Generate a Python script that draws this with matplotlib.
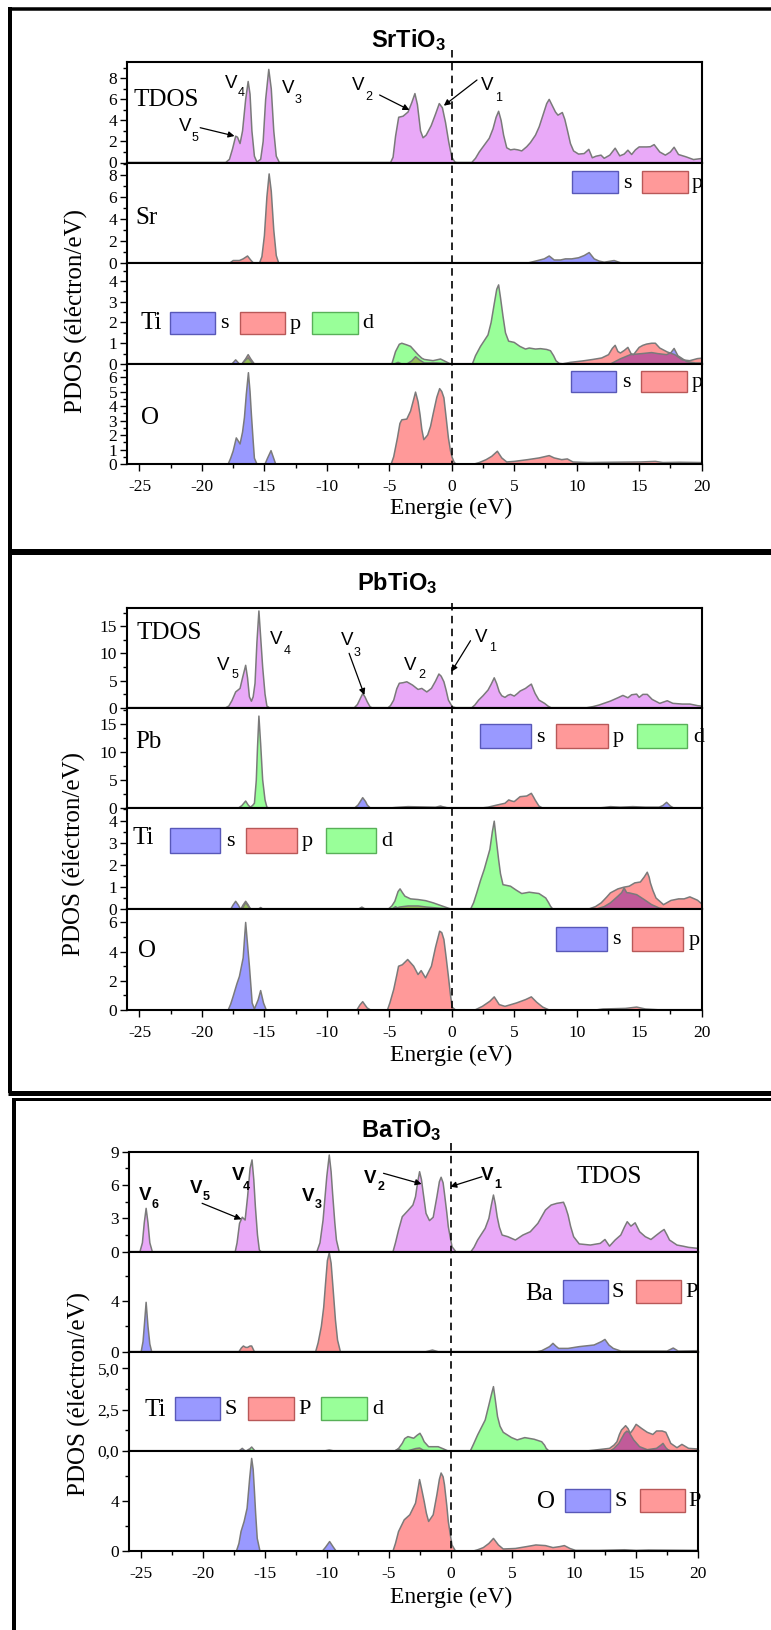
import matplotlib
matplotlib.use('Agg')
import matplotlib.pyplot as plt
from matplotlib.patches import Rectangle, FancyArrowPatch
from matplotlib.lines import Line2D
from matplotlib.ticker import MultipleLocator, FixedLocator, FixedFormatter
import matplotlib.transforms as mtransforms

# ---------------- data (energy eV, DOS) ----------------
sto_tdos = [(-26,0),(-18.1,0),(-17.8,0.3),(-17.55,1.3),(-17.3,2.5),(-17.15,2.4),(-16.95,1.8),(-16.75,3.0),(-16.5,6.0),(-16.3,7.7),(-16.15,6.5),(-16.0,3.0),(-15.8,0.6),(-15.6,0.05),(-15.3,0.3),(-15.1,2.0),(-14.9,6.0),(-14.65,8.85),(-14.45,7.0),(-14.25,3.0),(-14.05,0.6),(-13.8,0),
            (-4.9,0),(-4.7,0.5),(-4.5,2.5),(-4.25,4.3),(-3.9,4.4),(-3.5,4.8),(-3.2,5.7),(-2.95,6.55),(-2.75,5.5),(-2.5,3.0),(-2.3,2.35),(-2.05,2.6),(-1.65,3.5),(-1.3,4.6),(-1.0,5.6),(-0.75,5.2),(-0.5,3.8),(-0.25,2.0),(0.0,0.5),(0.25,0.05),(0.4,0),
            (1.6,0),(1.9,0.4),(2.2,1.0),(2.6,1.65),(3.0,2.3),(3.3,3.2),(3.55,4.3),(3.75,4.87),(3.95,4.0),(4.15,2.6),(4.4,1.4),(4.7,1.2),(5.0,1.26),(5.3,1.2),(5.6,1.1),(6.0,1.5),(6.3,1.9),(6.7,2.6),(7.0,3.4),(7.3,4.5),(7.6,5.6),(7.8,6.0),(8.05,5.4),(8.3,4.8),(8.5,4.5),(8.85,4.75),(9.05,4.1),(9.25,3.1),(9.5,1.8),(9.75,1.1),(10.15,0.8),(10.6,0.85),(10.97,1.25),(11.25,0.45),(11.55,0.6),(11.95,0.7),(12.2,0.4),(12.65,0.7),(13.08,1.36),(13.45,0.63),(13.8,0.8),(14.1,1.17),(14.4,0.76),(14.7,1.2),(15.0,1.48),(15.6,1.48),(15.9,1.5),(16.2,1.7),(16.65,1.0),(17.1,0.7),(17.5,1.0),(17.8,1.45),(18.15,0.76),(18.75,0.54),(19.35,0.28),(20.0,0.38)]
sto_sr_s = [(-26,0),(-3,0),(-2.5,0.05),(-0.5,0.05),(0,0),(6.0,0),(6.7,0.2),(7.4,0.4),(7.8,0.66),(8.2,0.3),(8.7,0.3),(9.1,0.4),(9.6,0.4),(10.15,0.5),(10.6,0.7),(11.0,0.97),(11.4,0.4),(11.8,0.2),(12.2,0.1),(13.0,0.25),(13.5,0.05),(14,0),(20,0)]
sto_sr_p = [(-26,0),(-17.8,0),(-17.5,0.25),(-17.0,0.25),(-16.7,0.4),(-16.35,0.66),(-16.1,0.3),(-15.9,0.05),(-15.4,0),(-15.2,0.6),(-15.0,2.5),(-14.8,6.0),(-14.62,8.07),(-14.45,6.5),(-14.25,3.0),(-14.05,0.7),(-13.85,0),(-3.5,0),(-3,0.05),(-1,0.05),(0,0),(20,0)]
sto_ti_s = [(-26,0),(-17.6,0),(-17.3,0.2),(-17.0,0),(-4.6,0),(-4.3,0.08),(-4.0,0),(12.7,0),(13.5,0.25),(14.3,0.45),(15.2,0.5),(16.0,0.55),(16.5,0.5),(17.2,0.45),(17.55,0.55),(17.8,0.75),(18.1,0.4),(18.8,0.12),(19.5,0.05),(20,0.05)]
sto_ti_p = [(-26,0),(-16.8,0),(-16.5,0.25),(-16.3,0.45),(-16.1,0.25),(-15.8,0),(-3.6,0),(-3.2,0.15),(-2.9,0.35),(-2.6,0.2),(-2.2,0.05),(-1.2,0.05),(0,0),(8.8,0),(9.5,0.08),(10.5,0.15),(11.3,0.22),(12.0,0.29),(12.55,0.45),(12.85,0.75),(13.08,0.9),(13.3,0.6),(13.5,0.53),(13.8,0.65),(14.1,0.8),(14.35,0.5),(14.55,0.45),(15.0,0.8),(15.3,0.9),(15.6,0.96),(16.0,1.0),(16.3,1.0),(16.65,0.77),(17.25,0.58),(17.85,0.45),(18.45,0.2),(19.05,0.16),(19.67,0.26),(20,0.28)]
sto_ti_d = [(-26,0),(-16.8,0),(-16.5,0.2),(-16.3,0.3),(-16.1,0.15),(-15.9,0),(-4.8,0),(-4.5,0.6),(-4.2,0.95),(-4.0,1.0),(-3.6,0.92),(-3.3,0.85),(-3.0,0.65),(-2.7,0.45),(-2.4,0.28),(-2.2,0.22),(-1.5,0.16),(-0.9,0.24),(-0.5,0.12),(-0.2,0.03),(0,0),(1.65,0),(1.9,0.4),(2.3,0.85),(2.9,1.4),(3.15,2.0),(3.4,2.9),(3.6,3.6),(3.75,3.81),(3.9,3.2),(4.1,2.3),(4.3,1.5),(4.55,1.1),(5.0,1.04),(5.45,0.85),(5.9,0.72),(6.2,0.77),(6.7,0.72),(7.1,0.74),(7.6,0.7),(7.9,0.64),(8.15,0.4),(8.35,0.15),(8.6,0.03),(9.0,0),(20,0)]
sto_o_s = [(-26,0),(-17.9,0),(-17.7,0.4),(-17.5,0.9),(-17.25,1.8),(-17.1,1.6),(-16.95,1.38),(-16.75,2.2),(-16.6,3.2),(-16.45,4.8),(-16.28,6.3),(-16.15,5.0),(-16.04,3.4),(-15.9,1.6),(-15.8,0.4),(-15.6,0),(-14.95,0),(-14.75,0.4),(-14.47,0.92),(-14.3,0.5),(-14.1,0),(20,0)]
sto_o_p = [(-26,0),(-4.85,0),(-4.65,0.5),(-4.35,1.8),(-4.15,2.8),(-4.0,3.05),(-3.6,3.1),(-3.3,3.65),(-3.1,4.3),(-2.9,4.96),(-2.7,4.3),(-2.54,3.4),(-2.4,2.4),(-2.24,1.68),(-1.93,2.0),(-1.7,2.6),(-1.48,3.5),(-1.2,4.6),(-0.97,5.2),(-0.8,5.0),(-0.63,4.57),(-0.45,3.2),(-0.27,1.8),(-0.1,0.9),(0.03,0.46),(0.2,0.1),(0.35,0),(1.8,0),(2.2,0.1),(2.75,0.3),(3.2,0.53),(3.65,0.88),(4.0,0.42),(4.4,0.14),(5.0,0.18),(6.07,0.3),(7.0,0.42),(7.8,0.58),(8.2,0.42),(8.8,0.3),(9.25,0.35),(9.7,0.14),(10.9,0.1),(12.7,0.12),(15.1,0.14),(16.3,0.18),(16.9,0.1),(18.2,0.12),(20,0.1)]

pto_tdos = [(-26,0),(-18.1,0),(-17.85,0.3),(-17.6,1.3),(-17.3,2.9),(-16.95,3.55),(-16.75,5.5),(-16.5,7.8),(-16.35,5.5),(-16.2,2.0),(-16.04,1.2),(-15.9,2.0),(-15.75,4.5),(-15.6,12.0),(-15.44,17.8),(-15.3,13.0),(-15.14,7.5),(-14.95,2.5),(-14.8,0.3),(-14.6,0),
            (-7.8,0),(-7.55,0.6),(-7.3,1.8),(-7.13,2.6),(-6.95,2.0),(-6.77,1.1),(-6.55,0.2),(-6.4,0),
            (-5.1,0),(-4.9,0.4),(-4.65,1.4),(-4.4,3.5),(-4.2,4.5),(-3.9,4.6),(-3.6,4.77),(-3.14,4.16),(-2.7,3.36),(-2.4,3.55),(-2.0,2.9),(-1.63,3.55),(-1.3,4.9),(-1.03,6.2),(-0.85,5.8),(-0.63,4.77),(-0.45,3.2),(-0.27,1.4),(0.03,0.2),(0.3,0),
            (1.6,0),(1.85,0.5),(2.15,1.4),(2.5,2.2),(2.9,3.24),(3.15,4.3),(3.4,5.5),(3.6,4.4),(3.8,2.94),(4.0,2.2),(4.26,1.9),(4.5,2.3),(4.7,2.45),(5.0,2.14),(5.25,2.6),(5.47,3.06),(5.9,3.55),(6.1,3.9),(6.37,4.34),(6.55,3.3),(6.67,2.63),(6.98,1.4),(7.43,0.8),(7.7,0.3),(7.95,0),
            (10.8,0),(11.3,0.2),(11.8,0.5),(12.3,0.9),(12.7,1.22),(13.3,1.83),(13.7,2.26),(14.1,1.83),(14.4,2.38),(14.8,2.5),(15.0,1.9),(15.3,2.45),(15.65,2.45),(16.04,1.53),(16.65,0.8),(17.25,1.28),(17.7,0.8),(18.46,0.67),(19.06,0.67),(19.7,0.37),(20,0.3)]
pto_pb_s = [(-26,0),(-7.8,0),(-7.5,0.6),(-7.13,1.9),(-6.9,1.2),(-6.77,0.6),(-6.5,0),(-1.4,0),(-1.1,0.3),(-0.9,0.4),(-0.6,0.2),(-0.3,0),(11.5,0),(12.2,0.15),(12.7,0.3),(13.5,0.2),(14.5,0.3),(15.5,0.2),(16.6,0.2),(16.9,0.5),(17.2,1.07),(17.5,0.4),(17.8,0),(20,0)]
pto_pb_p = [(-26,0),(-5.2,0),(-4.5,0.15),(-3.5,0.3),(-2.5,0.25),(-1.5,0.2),(-0.5,0.15),(0,0),(2.2,0),(2.9,0.2),(3.65,0.6),(4.26,0.9),(4.56,1.5),(4.8,1.3),(5.0,1.2),(5.47,2.08),(6.0,2.2),(6.37,2.68),(6.55,2.0),(6.67,1.5),(6.98,0.4),(7.3,0),(20,0)]
pto_pb_d = [(-26,0),(-17.1,0),(-16.8,0.5),(-16.5,1.3),(-16.3,0.6),(-16.13,0.2),(-15.95,0.5),(-15.8,0.9),(-15.65,5.0),(-15.55,11.0),(-15.44,16.5),(-15.3,11.5),(-15.14,5.1),(-14.95,1.5),(-14.8,0.2),(-14.6,0),(20,0)]
pto_ti_s = [(-26,0),(-17.7,0),(-17.5,0.2),(-17.3,0.36),(-17.1,0.2),(-16.9,0),(-4.8,0),(-4.5,0.12),(-4.2,0),(11.5,0),(12.2,0.12),(12.7,0.29),(13.3,0.59),(13.6,0.75),(13.8,0.96),(14.0,0.75),(14.2,0.74),(14.8,0.66),(15.4,0.44),(16.0,0.21),(16.6,0.06),(17.2,0),(20,0)]
pto_ti_p = [(-26,0),(-16.9,0),(-16.7,0.2),(-16.5,0.36),(-16.3,0.2),(-16.1,0),(-15.5,0),(-15.3,0.08),(-15.1,0),(-4.6,0),(-4.2,0.1),(-3.5,0.15),(-2.7,0.15),(-2.0,0.1),(-1.0,0.05),(0,0),(10.9,0),(11.5,0.12),(11.96,0.29),(12.4,0.55),(12.7,0.74),(13.3,0.92),(13.8,1.0),(14.2,1.04),(14.65,1.19),(15.1,1.23),(15.4,1.45),(15.65,1.67),(15.8,1.45),(15.9,1.19),(16.1,0.85),(16.35,0.51),(16.95,0.21),(17.55,0.4),(18.16,0.47),(18.6,0.47),(19.06,0.56),(19.67,0.41),(20,0.25)]
pto_ti_d = [(-26,0),(-16.8,0),(-16.5,0.3),(-16.3,0.15),(-16.1,0),(-7.5,0),(-7.2,0.1),(-6.9,0),(-5.1,0),(-4.8,0.15),(-4.56,0.36),(-4.3,0.8),(-4.14,0.92),(-3.95,0.75),(-3.75,0.59),(-3.3,0.47),(-2.7,0.44),(-2.1,0.39),(-1.48,0.29),(-0.88,0.17),(-0.27,0.05),(0,0),(1.5,0),(1.75,0.3),(2.0,0.74),(2.3,1.3),(2.6,1.8),(3.05,2.7),(3.25,3.5),(3.4,3.97),(3.55,3.2),(3.75,2.24),(3.9,1.6),(4.1,1.11),(4.7,1.04),(5.17,0.86),(5.6,0.71),(6.2,0.77),(6.98,0.71),(7.52,0.51),(7.75,0.3),(7.9,0.14),(8.1,0),(20,0)]
pto_o_s = [(-26,0),(-17.9,0),(-17.7,0.4),(-17.5,0.94),(-17.2,1.8),(-17.0,2.3),(-16.7,3.57),(-16.6,4.8),(-16.5,6.0),(-16.35,4.5),(-16.2,3.0),(-16.05,1.3),(-15.98,0.48),(-15.8,0.07),(-15.5,0.7),(-15.3,1.33),(-15.07,0.48),(-14.85,0),(20,0)]
pto_o_p = [(-26,0),(-7.6,0),(-7.35,0.35),(-7.13,0.57),(-6.95,0.35),(-6.77,0.14),(-6.5,0),(-5.15,0),(-4.95,0.5),(-4.65,1.4),(-4.4,2.4),(-4.26,3.0),(-3.96,3.1),(-3.53,3.46),(-3.05,3.0),(-2.7,2.43),(-2.45,2.7),(-2.1,2.2),(-1.63,3.0),(-1.3,4.3),(-0.97,5.4),(-0.8,5.3),(-0.63,4.83),(-0.45,3.6),(-0.27,2.3),(-0.1,1.0),(0.03,0.2),(0.3,0),(1.85,0),(2.45,0.25),(3.05,0.6),(3.4,0.9),(3.8,0.37),(4.26,0.25),(5.17,0.48),(5.9,0.71),(6.37,0.9),(6.8,0.53),(7.28,0.2),(7.8,0),(11.5,0),(12.1,0.07),(13.9,0.11),(14.8,0.2),(15.5,0.07),(16.5,0.02),(20,0.02)]

bto_tdos = [(-26,0),(-25.1,0),(-24.9,0.8),(-24.75,2.6),(-24.6,3.9),(-24.45,2.6),(-24.3,0.8),(-24.1,0),
            (-17.4,0),(-17.25,0.8),(-17.05,2.55),(-16.83,3.1),(-16.6,2.85),(-16.4,4.95),(-16.2,7.5),(-16.04,8.26),(-15.9,6.5),(-15.77,4.05),(-15.6,1.5),(-15.45,0.15),(-15.3,0),
            (-10.8,0),(-10.55,0.8),(-10.3,2.85),(-10.0,6.76),(-9.8,8.7),(-9.65,7.2),(-9.53,5.25),(-9.35,2.6),(-9.22,1.05),(-9.0,0),
            (-4.65,0),(-4.45,0.8),(-4.2,1.95),(-3.9,3.15),(-3.44,3.7),(-3.04,4.2),(-2.83,4.95),(-2.65,6.3),(-2.5,7.2),(-2.35,6.5),(-2.22,5.4),(-1.98,3.45),(-1.7,2.8),(-1.4,3.1),(-1.1,4.95),(-0.9,6.3),(-0.76,6.7),(-0.6,6.2),(-0.49,5.25),(-0.3,3.5),(-0.18,2.25),(0.12,0.45),(0.43,0),
            (1.65,0),(1.9,0.4),(2.19,1.05),(2.8,2.1),(3.1,3.0),(3.3,4.2),(3.47,5.1),(3.62,4.3),(3.77,3.15),(3.95,2.2),(4.17,1.5),(4.63,1.35),(5.24,1.05),(5.85,1.5),(6.45,1.8),(7.06,2.55),(7.67,3.75),(8.13,4.2),(8.58,4.35),(9.13,4.45),(9.3,4.0),(9.5,3.3),(9.7,2.3),(9.95,1.35),(10.4,0.7),(11.3,0.6),(12.1,0.75),(12.48,1.1),(12.85,0.5),(13.3,1.05),(13.76,1.5),(14.05,2.2),(14.28,2.7),(14.58,2.3),(14.92,2.6),(15.28,1.8),(15.74,1.35),(16.2,1.1),(16.65,1.5),(17.0,1.8),(17.26,2.0),(17.5,1.5),(17.7,1.05),(18.3,0.6),(18.78,0.5),(19.24,0.39),(20,0.3)]
bto_ba_s = [(-26,0),(-25.0,0),(-24.85,0.8),(-24.75,2.0),(-24.6,3.9),(-24.45,2.0),(-24.3,0.6),(-24.15,0),(-2.0,0),(-1.46,0.13),(-1.0,0),(7.0,0),(7.37,0.08),(8.0,0.4),(8.28,0.66),(8.5,0.45),(8.74,0.26),(9.5,0.26),(10.4,0.4),(11.6,0.53),(12.2,0.8),(12.48,0.97),(12.8,0.53),(13.15,0.26),(13.76,0.05),(17.5,0.05),(18.0,0.29),(18.4,0.05),(20,0.08)]
bto_ba_p = [(-26,0),(-17.1,0),(-16.9,0.3),(-16.74,0.45),(-16.55,0.34),(-16.4,0.34),(-16.2,0.45),(-16.07,0.45),(-15.85,0),(-10.9,0),(-10.7,0.7),(-10.44,2.0),(-10.25,3.5),(-10.1,5.4),(-9.95,7.2),(-9.8,7.8),(-9.65,7.0),(-9.5,5.1),(-9.3,2.5),(-9.13,0.92),(-8.9,0),(20,0)]
bto_ti_s = [(-26,0),(-17.1,0),(-16.83,0.16),(-16.6,0),(-4.5,0),(-4.2,0.12),(-3.9,0),(12.9,0),(13.2,0.15),(13.6,0.46),(14.06,1.07),(14.25,1.2),(14.43,1.13),(14.8,0.67),(15.28,0.26),(15.9,0.08),(16.65,0.16),(17.0,0.35),(17.17,0.46),(17.4,0.2),(17.56,0.08),(17.8,0),(20,0)]
bto_ti_p = [(-26,0),(-16.5,0),(-16.3,0.1),(-16.1,0),(-10.2,0),(-9.8,0.06),(-9.4,0),(-3.5,0),(-2.8,0.15),(-2.5,0.18),(-2.2,0.05),(-1.5,0),(11.0,0),(11.93,0.08),(12.85,0.16),(13.2,0.35),(13.45,0.56),(13.65,1.0),(13.82,1.27),(14.15,1.53),(14.35,1.35),(14.52,1.07),(14.75,1.3),(15.0,1.61),(15.2,1.5),(15.43,1.37),(15.9,1.13),(16.35,1.0),(16.65,1.21),(17.1,1.21),(17.4,1.13),(17.6,0.8),(17.8,0.46),(18.3,0.2),(18.7,0.4),(19.24,0.16),(20,0.12)]
bto_ti_d = [(-26,0),(-16.4,0),(-16.07,0.24),(-15.8,0),(-4.5,0),(-4.2,0.15),(-3.9,0.46),(-3.7,0.75),(-3.44,0.87),(-2.98,0.77),(-2.7,0.95),(-2.47,1.07),(-2.3,0.85),(-2.13,0.56),(-1.77,0.26),(-1.0,0.26),(-0.55,0.12),(-0.2,0),(1.6,0),(1.85,0.4),(2.19,0.97),(2.8,1.87),(3.1,2.78),(3.3,3.4),(3.47,3.89),(3.6,3.2),(3.8,2.08),(4.0,1.5),(4.26,1.13),(4.93,0.81),(5.39,0.67),(6.0,0.81),(6.76,0.71),(7.37,0.56),(7.6,0.35),(7.73,0.16),(7.95,0),(20,0)]
bto_o_s = [(-26,0),(-17.3,0),(-17.1,0.6),(-16.93,1.55),(-16.68,2.35),(-16.44,3.4),(-16.23,5.8),(-16.07,7.36),(-15.95,6.5),(-15.86,5.0),(-15.75,3.0),(-15.62,1.0),(-15.4,0),(-10.35,0),(-10.1,0.3),(-9.77,0.75),(-9.5,0.35),(-9.25,0),(20,0)]
bto_o_p = [(-26,0),(-4.65,0),(-4.45,0.6),(-4.2,1.55),(-3.74,2.48),(-3.29,2.88),(-2.83,3.8),(-2.65,4.8),(-2.5,5.68),(-2.35,5.0),(-2.13,3.95),(-1.95,3.0),(-1.77,2.35),(-1.4,2.88),(-1.1,4.48),(-0.9,5.7),(-0.76,6.2),(-0.6,5.9),(-0.49,5.28),(-0.3,3.6),(-0.18,2.35),(0.0,1.2),(0.12,0.48),(0.4,0),(1.85,0),(2.2,0.1),(2.65,0.27),(3.1,0.6),(3.47,1.0),(3.87,0.48),(4.26,0.16),(5.24,0.2),(6.15,0.35),(6.9,0.48),(7.67,0.43),(8.28,0.27),(8.83,0.35),(9.2,0.43),(9.65,0.2),(10.1,0.05),(12,0.05),(14.06,0.1),(15,0.05),(16,0.08),(20,0.05)]

titles = ["SrTiO$_3$", "PbTiO$_3$", "BaTiO$_3$"]
xticks = [-25, -20, -15, -10, -5, 0, 5, 10, 15, 20]
ti_bto_ticks = [0.0, 2.5, 5.0]
ti_bto_labels = ["0,0", "2,5", "5,0"]

# ---------------- style ----------------
W, H = 771, 1630
SERIF = ['Liberation Serif', 'DejaVu Serif']
SANS = ['Liberation Sans', 'DejaVu Sans']
plt.rcParams['font.family'] = SERIF
plt.rcParams['mathtext.default'] = 'regular'
plt.rcParams['axes.unicode_minus'] = False
EDGE = '#7a7a7a'
TDOS_C = '#E9A9F8'
COL = {'s': (0, 0, 1), 'p': (1, 0, 0), 'd': (0, 1, 0)}
BOX = {'s': ('#9999FF', '#5858B8'), 'p': ('#FF9999', '#B85858'), 'd': ('#99FF99', '#58B058')}
ALPHA = 0.4

fig = plt.figure(figsize=(W / 100, H / 100), dpi=100)


def fx(x):
    return x / W


def fy(y):
    return 1 - y / H


def curve(ax, pts, color, alpha=1.0):
    e = [p[0] for p in pts]
    v = [p[1] for p in pts]
    ax.fill_between(e, 0, v, facecolor=color, alpha=alpha, lw=0, zorder=1)
    ax.plot(e, v, color=EDGE, lw=1.1, zorder=1.5)


def make_axes(left, right, top, bottom, ylim, major, minor, last):
    ax = fig.add_axes([fx(left), fy(bottom), (right - left) / W, (bottom - top) / H])
    ax.set_xlim(-26, 20)
    ax.set_ylim(*ylim)
    for sp in ax.spines.values():
        sp.set_linewidth(1.5)
    ax.yaxis.set_major_locator(MultipleLocator(major))
    ax.yaxis.set_minor_locator(MultipleLocator(minor))
    ax.tick_params(axis='y', which='major', direction='out', length=5, width=1, labelsize=12.5, pad=2,
                   labelfontfamily='Liberation Serif')
    ax.tick_params(axis='y', which='minor', direction='out', length=3, width=1)
    ax.tick_params(axis='y', right=False)
    if last:
        ax.set_xticks(xticks)
        ax.xaxis.set_minor_locator(MultipleLocator(2.5))
        ax.tick_params(axis='x', which='major', direction='out', length=5, width=1, labelsize=12.5, pad=6,
                       labelfontfamily='Liberation Serif')
        ax.tick_params(axis='x', which='minor', direction='out', length=3, width=1)
        ax.tick_params(axis='x', top=False)
    else:
        ax.tick_params(axis='x', which='both', bottom=False, top=False, labelbottom=False)
    return ax


def T(x, y, s, **kw):
    fig.text(fx(x), fy(y), s, **kw)


def box(x0, x1, y0, y1, key):
    fc, ec = BOX[key]
    fig.add_artist(Rectangle((fx(x0), fy(y1)), (x1 - x0) / W, (y1 - y0) / H,
                             transform=fig.transFigure, facecolor=fc, edgecolor=ec, lw=1.0))


def legend_row(items, y0, y1, fs=16):
    for (x0, x1, xt, key, lab) in items:
        box(x0, x1, y0, y1, key)
        T(xt, (y0 + y1) / 2 + 1, lab, fontsize=fs, ha='center', va='center')


def vlabel(xv, yv, xs, ys, n, bold=False):
    w = 'bold' if bold else 'normal'
    T(xv, yv, 'V', fontsize=13.5, family=SANS, weight=w, ha='center', va='center')
    T(xs, ys, n, fontsize=9, family=SANS, weight=w, ha='center', va='center')


def arrow(x0, y0, x1, y1):
    fig.add_artist(FancyArrowPatch(
        (fx(x0), fy(y0)), (fx(x1), fy(y1)), transform=fig.transFigure,
        arrowstyle='-|>', mutation_scale=9, lw=0.9, color='k', shrinkA=0, shrinkB=0))


def dashed(ax, ytop, ybot):
    tr = mtransforms.blended_transform_factory(ax.transData, fig.transFigure)
    fig.add_artist(Line2D([0, 0], [fy(ytop), fy(ybot)], transform=tr, color='k', lw=1.2,
                          ls=(0, (4.5, 3.2)), zorder=5))


def frame_line(x0, y0, x1, y1, lwpx):
    fig.add_artist(Line2D([fx(x0), fx(x1)], [fy(y0), fy(y1)], transform=fig.transFigure,
                          color='k', lw=lwpx * 0.72, solid_capstyle='butt'))


# ---------------- Panel 1: SrTiO3 ----------------
L1, R1 = 127, 701.6
a1 = make_axes(L1, R1, 61.5, 162.5, (0, 9.6), 2, 1, False)
curve(a1, sto_tdos, TDOS_C)
a2 = make_axes(L1, R1, 162.5, 263.3, (0, 9.1), 2, 1, False)
curve(a2, sto_sr_s, COL['s'], ALPHA)
curve(a2, sto_sr_p, COL['p'], ALPHA)
a3 = make_axes(L1, R1, 263.3, 364, (0, 4.85), 1, 0.5, False)
curve(a3, sto_ti_s, COL['s'], ALPHA)
curve(a3, sto_ti_p, COL['p'], ALPHA)
curve(a3, sto_ti_d, COL['d'], ALPHA)
a4 = make_axes(L1, R1, 364, 464, (0, 6.9), 1, 0.5, True)
curve(a4, sto_o_s, COL['s'], ALPHA)
curve(a4, sto_o_p, COL['p'], ALPHA)
dashed(a1, 50, 464)

T(409, 47, titles[0], fontsize=17, family=SANS, weight='bold', ha='center', va='baseline')
T(166, 100, 'TDOS', fontsize=18, ha='center', va='center')
T(146.5, 218, 'Sr', fontsize=18, ha='center', va='center')
T(151, 323, 'Ti', fontsize=18, ha='center', va='center')
T(150, 418, 'O', fontsize=18, ha='center', va='center')
legend_row([(571.7, 617.5, 627, 's', 's'), (642, 688, 697, 'p', 'p')], 171, 193.3)
legend_row([(169.6, 214.7, 224, 's', 's'), (239.5, 285.3, 295.6, 'p', 'p'), (312, 358, 368, 'd', 'd')], 312, 334)
legend_row([(571, 616, 626, 's', 's'), (641, 687, 697, 'p', 'p')], 370.7, 392.3)
vlabel(230.7, 83.3, 241.4, 93.3, '4')
vlabel(288, 88.3, 298.3, 100, '3')
vlabel(184.9, 126.7, 194.5, 137.7, '5')
vlabel(358.6, 85, 369.3, 96.7, '2')
vlabel(487.3, 85.7, 498.8, 98.3, '1')
arrow(200.2, 127.7, 234.5, 136)
arrow(379.6, 95, 409.4, 110)
arrow(477, 80, 443.8, 105.7)
T(451, 508, 'Energie (eV)', fontsize=17, ha='center', va='center')
T(76, 311, 'PDOS (éléctron/eV)', fontsize=18, rotation=90, ha='center', va='center')

# ---------------- Panel 2: PbTiO3 ----------------
b1 = make_axes(L1, R1, 607.7, 707.7, (0, 18.4), 5, 2.5, False)
curve(b1, pto_tdos, TDOS_C)
b2 = make_axes(L1, R1, 707.7, 808.3, (0, 18.0), 5, 2.5, False)
curve(b2, pto_pb_s, COL['s'], ALPHA)
curve(b2, pto_pb_p, COL['p'], ALPHA)
curve(b2, pto_pb_d, COL['d'], ALPHA)
b3 = make_axes(L1, R1, 808.3, 909.3, (0, 4.55), 1, 0.5, False)
curve(b3, pto_ti_s, COL['s'], ALPHA)
curve(b3, pto_ti_p, COL['p'], ALPHA)
curve(b3, pto_ti_d, COL['d'], ALPHA)
b4 = make_axes(L1, R1, 909.3, 1010, (0, 6.9), 2, 1, True)
curve(b4, pto_o_s, COL['s'], ALPHA)
curve(b4, pto_o_p, COL['p'], ALPHA)
dashed(b1, 603, 1010)

T(397, 590, titles[1], fontsize=17, family=SANS, weight='bold', ha='center', va='baseline')
T(169, 633, 'TDOS', fontsize=18, ha='center', va='center')
T(148.5, 741.7, 'Pb', fontsize=18, ha='center', va='center')
T(143.5, 838, 'Ti', fontsize=18, ha='center', va='center')
T(147, 951, 'O', fontsize=18, ha='center', va='center')
legend_row([(480, 530.5, 540, 's', 's'), (556.4, 607.6, 618, 'p', 'p'), (636.6, 687, 698.5, 'd', 'd')], 724.3, 748.3)
legend_row([(169.6, 220, 230, 's', 's'), (246, 296.8, 307, 'p', 'p'), (326, 376, 387, 'd', 'd')], 828, 853)
legend_row([(556, 607, 616, 's', 's'), (632, 683, 694.6, 'p', 'p')], 927, 951)
vlabel(223.1, 665, 234.5, 675, '5')
vlabel(276.5, 639.3, 286.9, 650.7, '4')
vlabel(347.2, 640.7, 356.7, 652.7, '3')
vlabel(410.2, 665, 421.6, 675, '2')
vlabel(480.8, 637.3, 492.3, 648.3, '1')
arrow(349.1, 653.3, 364.4, 695)
arrow(470.5, 640.7, 451.4, 671.7)
T(451, 1055, 'Energie (eV)', fontsize=17, ha='center', va='center')
T(74, 854, 'PDOS (éléctron/eV)', fontsize=18, rotation=90, ha='center', va='center')

# ---------------- Panel 3: BaTiO3 ----------------
L3, R3 = 128.8, 698
c1 = make_axes(L3, R3, 1151.7, 1251.7, (0, 9.0), 3, 1.5, False)
curve(c1, bto_tdos, TDOS_C)
c2 = make_axes(L3, R3, 1251.7, 1351.7, (0, 7.9), 4, 2, False)
curve(c2, bto_ba_s, COL['s'], ALPHA)
curve(c2, bto_ba_p, COL['p'], ALPHA)
c3 = make_axes(L3, R3, 1351.7, 1451, (0, 6.0), 2.5, 1.25, False)
c3.yaxis.set_major_locator(FixedLocator(ti_bto_ticks))
c3.yaxis.set_major_formatter(FixedFormatter(ti_bto_labels))
curve(c3, bto_ti_s, COL['s'], ALPHA)
curve(c3, bto_ti_p, COL['p'], ALPHA)
curve(c3, bto_ti_d, COL['d'], ALPHA)
c4 = make_axes(L3, R3, 1451, 1551, (0, 7.95), 4, 2, True)
curve(c4, bto_o_s, COL['s'], ALPHA)
curve(c4, bto_o_p, COL['p'], ALPHA)
dashed(c1, 1143, 1551)

T(401, 1137, titles[2], fontsize=17, family=SANS, weight='bold', ha='center', va='baseline')
T(609, 1176.7, 'TDOS', fontsize=18, ha='center', va='center')
T(539, 1294, 'Ba', fontsize=18, ha='center', va='center')
T(154.8, 1410, 'Ti', fontsize=18, ha='center', va='center')
T(545.5, 1501.7, 'O', fontsize=18, ha='center', va='center')
legend_row([(563, 608, 618, 's', 'S'), (636, 681, 691.6, 'p', 'P')], 1280, 1302.7)
legend_row([(175.4, 220.4, 230.7, 's', 'S'), (248, 293.7, 304.4, 'p', 'P'), (321, 367, 377.7, 'd', 'd')], 1397.3, 1420)
legend_row([(564.8, 610, 621, 's', 'S'), (640, 685, 694.6, 'p', 'P')], 1489, 1511.7)
vlabel(144.8, 1195, 155.1, 1205, '6', True)
vlabel(196.4, 1188.3, 205.9, 1197.3, '5', True)
vlabel(238.4, 1175, 246.8, 1187.3, '4', True)
vlabel(307.9, 1196.7, 317.8, 1205, '3', True)
vlabel(370.1, 1178.3, 380.8, 1186.7, '2', True)
vlabel(487.3, 1176, 498, 1185, '1', True)
arrow(202.1, 1203.3, 241.4, 1219.3)
arrow(383.5, 1173.3, 421.6, 1184)
arrow(482, 1176.7, 450.3, 1186.7)
T(451, 1597, 'Energie (eV)', fontsize=17, ha='center', va='center')
T(79, 1394, 'PDOS (éléctron/eV)', fontsize=18, rotation=90, ha='center', va='center')

# ---------------- panel frames ----------------
frame_line(10, 6.5, 10, 552, 4)
frame_line(8, 8.5, 771, 8.5, 3.5)
frame_line(8, 552, 771, 552, 6)
frame_line(10, 552, 10, 1092.5, 4)
frame_line(8, 1092.5, 771, 1092.5, 5)
frame_line(12, 1099, 771, 1099, 3)
frame_line(14, 1097.5, 14, 1630, 4)

fig.savefig('out.png', dpi=100)
